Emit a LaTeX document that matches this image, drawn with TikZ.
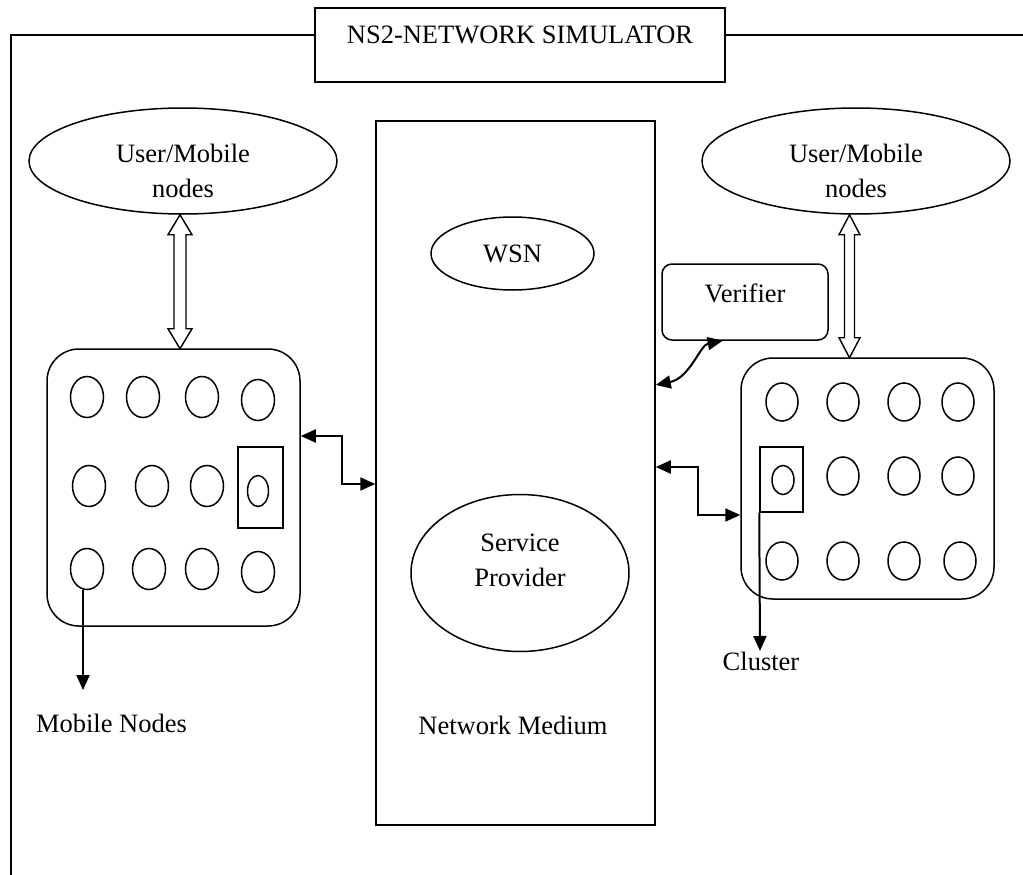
\documentclass[tikz,border=0pt]{standalone}
\usepackage{fontspec}
\setmainfont{Liberation Serif}
\usetikzlibrary{shapes.geometric,arrows.meta,calc}
\begin{document}
\begin{tikzpicture}[x=1pt,y=-1pt,line width=1.5pt,
  txt/.style={font=\fontsize{26.5}{34}\selectfont,inner sep=0pt},
  ell/.style={draw,ellipse,inner sep=0pt},
  mnode/.style={draw,ellipse,inner sep=0pt,minimum width=33pt,minimum height=41pt},
  rnode/.style={draw,ellipse,inner sep=0pt,minimum width=32pt,minimum height=38pt},
  box/.style={draw,rectangle,inner sep=0pt},
  arr/.style={line width=2pt,-{Triangle[length=15pt,width=13pt]}},
  darr/.style={line width=2pt,{Triangle[length=15pt,width=13pt]}-{Triangle[length=15pt,width=13pt]}},
  hollow/.style={draw,fill=white,line width=1.4pt,line join=miter}]
\useasboundingbox (0,0) rectangle (1023,875);

% title and frame
\node[box,minimum width=410pt,minimum height=74pt] (title) at (520,45) {};
\node[txt] (ttext) at (520,35) {NS2-NETWORK SIMULATOR};
\coordinate (fl) at (11,875);
\coordinate (fr) at (1023,35);
\draw (fl) |- (title.west |- fr);
\draw (title.east |- fr) -- (fr);

% user ellipses
\node[ell,minimum width=308pt,minimum height=106pt] (ul) at (183,161) {};
\node[txt,anchor=base] at (183,162) {User/Mobile};
\node[txt,anchor=base] at (183,197) {nodes};
\node[ell,minimum width=308pt,minimum height=106pt] (ur) at (856,161) {};
\node[txt,anchor=base] at (856,162) {User/Mobile};
\node[txt,anchor=base] at (856,197) {nodes};

% network medium
\node[box,minimum width=279pt,minimum height=704pt] (med) at (515.5,473) {};
\node[ell,txt,inner sep=0pt,minimum width=163pt,minimum height=73pt] (wsn) at (512.5,253.5) {WSN};
\node[ell,minimum width=218pt,minimum height=157pt] (sp) at (520,573) {};
\node[txt,anchor=base] at (520,551) {Service};
\node[txt,anchor=base] at (520,586) {Provider};
\node[txt] (nm) at (513,725) {Network Medium};

% left cluster
\node[box,rounded corners=32pt,minimum width=253pt,minimum height=277pt] (lc) at (173.5,487.5) {};
\node[mnode] (l11) at (87,397) {};
\node[mnode] (l12) at (143,397) {};
\node[mnode] (l13) at (202,397) {};
\node[mnode] (l14) at (258,400) {};
\node[mnode] (l21) at (89,486) {};
\node[mnode] (l22) at (152,486) {};
\node[mnode] (l23) at (207,486) {};
\node[box,minimum width=45pt,minimum height=81pt] (lcr) at (260.5,487.5) {};
\node[ell,minimum width=21pt,minimum height=31pt] (l24) at (258,491) {};
\node[mnode] (l31) at (87,569) {};
\node[mnode] (l32) at (149,569) {};
\node[mnode] (l33) at (202,569) {};
\node[mnode] (l34) at (258,572) {};

% right cluster
\node[box,rounded corners=32pt,minimum width=253pt,minimum height=241pt] (rc) at (867.5,478.5) {};
\node[rnode] (r11) at (782,402) {};
\node[rnode] (r12) at (843,402) {};
\node[rnode] (r13) at (904,402) {};
\node[rnode] (r14) at (958,402) {};
\node[box,minimum width=43pt,minimum height=65pt] (rcr) at (781.5,479.5) {};
\node[ell,minimum width=22pt,minimum height=29pt] (r21) at (783,480) {};
\node[rnode] (r22) at (843,476) {};
\node[rnode] (r23) at (904,476) {};
\node[rnode] (r24) at (958,476) {};
\node[rnode] (r31) at (782,561) {};
\node[rnode] (r32) at (843,561) {};
\node[rnode] (r33) at (904,561) {};
\node[rnode] (r34) at (960,561) {};

% verifier
\node[box,rounded corners=10pt,minimum width=166pt,minimum height=76pt] (ver) at (745,302) {};
\node[txt] at (745,293) {Verifier};

% hollow double arrows
\coordinate (la) at (ul.south -| 180,0);
\draw[hollow] (la) -- ++(12,20) -- ++(-6,0) -- ++(0,94) -- ++(6,0) -- ++(-12,20)
  -- ++(-12,-20) -- ++(6,0) -- ++(0,-94) -- ++(-6,0) -- cycle;
\coordinate (ra) at (ur.south -| 849.5,0);
\draw[hollow] (ra) -- ++(10.5,20) -- ++(-5.5,0) -- ++(0,103) -- ++(5.5,0) -- ++(-10.5,20)
  -- ++(-10.5,-20) -- ++(5.5,0) -- ++(0,-103) -- ++(-5.5,0) -- cycle;

% connectors
\draw[darr] (lc.east |- 0,436) -- (342,436) -- (342,484) -- (med.west |- 0,484);
\draw[darr] (med.east |- 0,467) -- (698,467) -- (698,515) -- (rc.west |- 0,515);
\coordinate (vm) at (med.east |- 0,385);
\draw[darr] (vm) .. controls (690,378) and (700,345) .. (ver.-120);
\coordinate (mn) at (83,690);
\draw[arr] (l31.south -| mn) -- (mn);
\node[txt] (mntext) at (111.5,723) {Mobile Nodes};
\coordinate (cl) at (760,651);
\draw[arr] (rcr.south west) -- (cl);
\node[txt] (cltext) at (761,661) {Cluster};
\end{tikzpicture}
\end{document}
